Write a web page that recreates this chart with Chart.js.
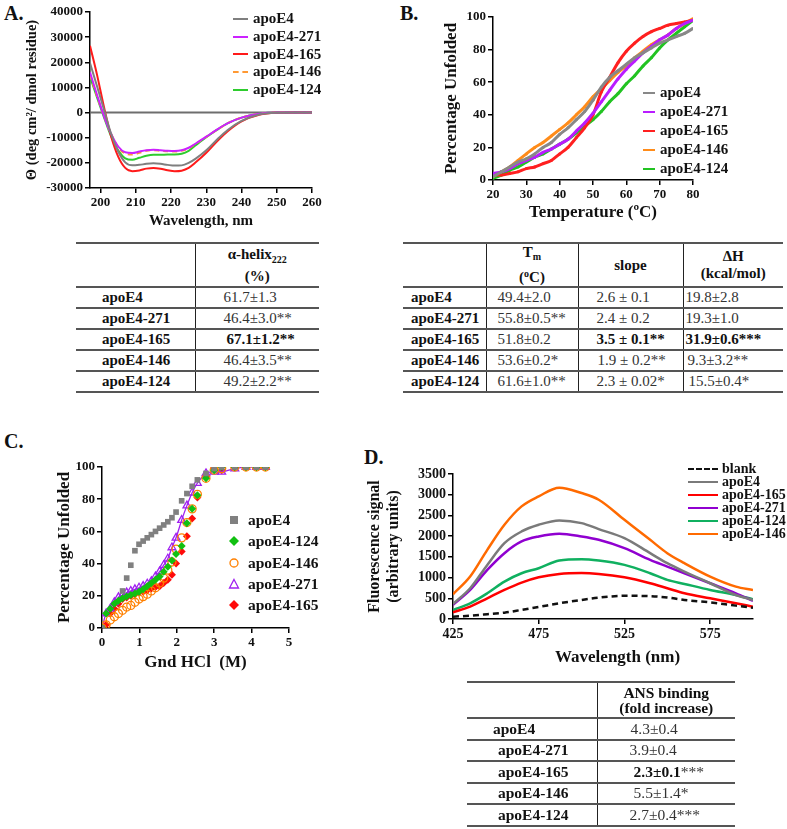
<!DOCTYPE html>
<html>
<head>
<meta charset="utf-8">
<script src="https://cdn.jsdelivr.net/npm/chart.js@4.4.1/dist/chart.umd.min.js"></script>
<style>
    body { margin: 0; width: 787px; height: 829px; overflow: hidden; background: #fff; position: relative;
        font-family: "Liberation Serif", "Times New Roman", serif; color: #111; }
    .box { position: absolute; }
    .panel { position: absolute; font-weight: bold; font-size: 20px; line-height: 20px; }
    .legend { position: absolute; font-weight: bold; }
    .legend .item { position: absolute; left: 0; white-space: nowrap; }
    .legend .swatch { position: absolute; left: 0; top: 50%; }
    table { position: absolute; border-collapse: collapse; table-layout: fixed; font-size: 15px;
        font-family: "Liberation Serif", "Times New Roman", serif; }
    td { padding: 0; border-top: 2px solid #555; vertical-align: middle; white-space: nowrap; color: #333; }
    tr:last-child td { border-bottom: 2px solid #555; }
    td + td { border-left: 1.5px solid #222; }
    td.name { font-weight: bold; color: #111; }
    th { font-weight: bold; padding: 0; border-top: 2px solid #555; line-height: 17px; }
    th + th { border-left: 1.5px solid #222; }
    b { color: #111; }
</style>
</head>
<body>

<div class="panel" style="left:4px;top:3px">A.</div>
<div class="panel" style="left:400px;top:3px">B.</div>
<div class="panel" style="left:4px;top:431px">C.</div>
<div class="panel" style="left:364px;top:447px">D.</div>

<div class="box" style="left:0;top:0"><canvas id="chartA" width="330" height="235"></canvas></div>
<div class="box" style="left:390px;top:0"><canvas id="chartB" width="330" height="225"></canvas></div>
<div class="box" style="left:0;top:440px"><canvas id="chartC" width="340" height="240"></canvas></div>
<div class="box" style="left:360px;top:440px"><canvas id="chartD" width="427" height="232"></canvas></div>

<div class="legend" id="legendA" style="left:233px;top:10px;font-size:15px"></div>
<div class="legend" id="legendB" style="left:643px;top:83px;font-size:15px"></div>
<div class="legend" id="legendC" style="left:227px;top:510px;font-size:15.5px"></div>
<div class="legend" id="legendD" style="left:688px;top:462px;font-size:14px"></div>

<table style="left:76px;top:242px;width:243px">
    <colgroup><col style="width:119px"><col style="width:124px"></colgroup>
    <tr style="height:44px"><th></th><th>α-helix<sub style="font-size:10px">222</sub><br>(%)</th></tr>
    <tr style="height:21px"><td class="name" style="padding-left:26px">apoE4</td><td style="padding-left:28px">61.7±1.3</td></tr>
    <tr style="height:21px"><td class="name" style="padding-left:26px">apoE4-271</td><td style="padding-left:28px">46.4±3.0**</td></tr>
    <tr style="height:21px"><td class="name" style="padding-left:26px">apoE4-165</td><td style="padding-left:31px"><b>67.1±1.2**</b></td></tr>
    <tr style="height:21px"><td class="name" style="padding-left:26px">apoE4-146</td><td style="padding-left:28px">46.4±3.5**</td></tr>
    <tr style="height:21px"><td class="name" style="padding-left:26px">apoE4-124</td><td style="padding-left:28px">49.2±2.2**</td></tr>
</table>

<table style="left:403px;top:242px;width:380px">
    <colgroup><col style="width:83px"><col style="width:92px"><col style="width:105px"><col style="width:100px"></colgroup>
    <tr style="height:44px"><th></th><th>T<sub style="font-size:10px;vertical-align:-3px">m</sub><br>(<sup style="font-size:10px;vertical-align:5px">o</sup>C)</th><th>slope</th><th>ΔH<br>(kcal/mol)</th></tr>
    <tr style="height:21px"><td class="name" style="padding-left:8px">apoE4</td><td style="padding-left:11px">49.4±2.0</td><td style="padding-left:18px">2.6 ± 0.1</td><td style="padding-left:2px">19.8±2.8</td></tr>
    <tr style="height:21px"><td class="name" style="padding-left:8px">apoE4-271</td><td style="padding-left:11px">55.8±0.5**</td><td style="padding-left:18px">2.4 ± 0.2</td><td style="padding-left:2px">19.3±1.0</td></tr>
    <tr style="height:21px"><td class="name" style="padding-left:8px">apoE4-165</td><td style="padding-left:11px">51.8±0.2</td><td style="padding-left:18px"><b>3.5 ± 0.1**</b></td><td style="padding-left:2px"><b>31.9±0.6***</b></td></tr>
    <tr style="height:21px"><td class="name" style="padding-left:8px">apoE4-146</td><td style="padding-left:11px">53.6±0.2*</td><td style="padding-left:19px">1.9 ± 0.2**</td><td style="padding-left:4px">9.3±3.2**</td></tr>
    <tr style="height:21px"><td class="name" style="padding-left:8px">apoE4-124</td><td style="padding-left:11px">61.6±1.0**</td><td style="padding-left:18px">2.3 ± 0.02*</td><td style="padding-left:5px">15.5±0.4*</td></tr>
</table>

<div class="box" style="left:555px;top:647px;font-weight:bold;font-size:17px">Wavelength (nm)</div>

<table style="left:467px;top:681px;width:268px;font-size:15.5px">
    <colgroup><col style="width:130px"><col style="width:138px"></colgroup>
    <tr style="height:36px"><th></th><th style="line-height:15px">ANS binding<br>(fold increase)</th></tr>
    <tr style="height:21.5px"><td class="name" style="padding-left:26px">apoE4</td><td style="padding-left:33px">4.3±0.4</td></tr>
    <tr style="height:21.5px"><td class="name" style="padding-left:31px">apoE4-271</td><td style="padding-left:32px">3.9±0.4</td></tr>
    <tr style="height:21.5px"><td class="name" style="padding-left:31px">apoE4-165</td><td style="padding-left:36px"><b>2.3±0.1</b>***</td></tr>
    <tr style="height:21.5px"><td class="name" style="padding-left:31px">apoE4-146</td><td style="padding-left:36px">5.5±1.4*</td></tr>
    <tr style="height:21.5px"><td class="name" style="padding-left:31px">apoE4-124</td><td style="padding-left:32px">2.7±0.4***</td></tr>
</table>

<script>
const SERIF = '"Liberation Serif", "Times New Roman", serif';

// ---- Panel A: CD spectra ----
const wavelengthA = [197, 199, 201, 203, 205, 207, 209, 211, 213, 215, 217, 219, 221, 223, 225, 227, 230, 233, 236, 240, 245, 250, 255, 260];
const cdApoE4 = [19700, 10500, 1000, -8500, -15500, -19800, -21000, -20800, -20400, -20200, -20400, -20800, -21100, -21000, -20000, -18300, -15000, -10800, -7000, -3300, -800, -100, 0, 0];
const cd271 = [16000, 7000, -1500, -8500, -13500, -15800, -16100, -15500, -15000, -14800, -15000, -15200, -15300, -15000, -14000, -12300, -9600, -6800, -4300, -2000, -500, 0, 0, 0];
const cd165 = [26600, 15000, 2000, -9500, -17500, -22000, -23300, -23000, -22300, -22000, -22300, -22900, -23300, -23100, -22000, -19800, -16000, -11500, -7500, -3500, -900, -100, 0, 0];
const cd146 = [15000, 6500, -1500, -8500, -13800, -16300, -16700, -16000, -15200, -15000, -15200, -15400, -15500, -15200, -14200, -12400, -9700, -6900, -4300, -2000, -500, 0, 0, 0];
const cd124 = [14300, 6000, -2000, -9500, -15000, -18200, -18800, -18000, -17200, -16800, -16800, -16700, -16700, -16400, -15200, -13000, -9800, -6900, -4300, -2000, -500, 0, 0, 0];
const ticksA = [200, 210, 220, 230, 240, 250, 260];

// ---- Panel B: thermal unfolding ----
const temperatureB = [20, 22.5, 25, 27.5, 30, 32.5, 35, 37.5, 40, 42.5, 45, 47.5, 50, 52.5, 55, 57.5, 60, 62.5, 65, 67.5, 70, 72.5, 75, 77.5, 80];
const unfoldApoE4 = [2, 5, 8, 11, 13, 16, 20, 23, 28, 32, 37, 42, 49, 57, 63, 67, 71, 75, 78, 81, 84, 86, 88, 90, 93];
const unfold271 = [4, 5, 7, 10, 12, 14, 17, 19, 22, 25, 30, 35, 41, 48, 55, 62, 68, 73, 78, 82, 86, 89, 93, 96, 98];
const unfold165 = [3, 3, 4, 5, 7, 8, 10, 12, 16, 20, 26, 32, 40, 54, 63, 72, 79, 84, 88, 91, 93, 95, 96, 97, 98];
const unfold146 = [2, 5, 8, 12, 16, 20, 23, 27, 31, 35, 40, 45, 51, 56, 61, 66, 70, 75, 79, 83, 86, 89, 93, 96, 99];
const unfold124 = [1, 3, 6, 8, 11, 14, 16, 19, 22, 25, 29, 33, 37, 42, 48, 53, 59, 64, 70, 75, 81, 86, 90, 94, 98];

// ---- Panel C: GdnHCl denaturation ----
const gdnC = [0, 0.11, 0.22, 0.33, 0.44, 0.55, 0.66, 0.77, 0.88, 0.99, 1.1, 1.21, 1.32, 1.43, 1.54, 1.65, 1.76, 1.87, 1.98, 2.13, 2.27, 2.41, 2.55, 2.78, 3.0, 3.2, 3.55, 3.85, 4.13, 4.37];
const gdnApoE4 = [0, null, null, null, null, 23, 31, 39, 48, 52, 54, 56, 58, 60, 62, 64, 66, 68.5, 72, 79, 83.5, 88, 92, 96, 99, 100, 100, 100, 100, 100];
const gdn124 = [0, 9, 12, 15, 17, 18.5, 19.5, 20.5, 21.5, 22.5, 24, 26, 28, 30, 32, 35, 38, 42, 46, 51, 65, 74, 82.5, 93, 98, 100, 100, 100, 100, 100];
const gdn146 = [0, 2, 5, 7, 9, 11, 13, 14, 16, 18, 19.5, 21, 23, 25, 28, 31, 36, 41, 49, 56, 65.5, 74, 83, 93, 98, 99, 100, 100, 100, 100];
const gdn271 = [0, 9, 12, 16, 19, 20.5, 22, 23, 24, 25, 26, 27.5, 29, 32, 35, 39, 43, 50, 56, 67, 76, 84, 90, 96, 97, 97, 99, 100, 100, 100];
const gdn165 = [0, 2, 9, 12, 15, 18, 19, 20, 21, 22, 22.5, 23.5, 24.5, 25.5, 26, 28, 30, 33, 40, 47.5, 57, 68, 81, 94, 99.5, 98, 100, 100, 100, 100];

// ---- Panel D: ANS fluorescence ----
const wavelengthD = [425, 435, 445, 455, 465, 475, 487, 500, 510, 525, 540, 550, 560, 575, 590, 600];
const fluorBlank = [56, 80, 115, 153, 220, 290, 379, 460, 515, 560, 550, 520, 460, 403, 323, 274];
const fluorApoE4 = [363, 742, 1306, 1831, 2113, 2274, 2380, 2315, 2170, 1952, 1589, 1347, 1145, 863, 580, 460];
const fluor165 = [161, 298, 500, 702, 879, 1008, 1089, 1110, 1089, 1008, 863, 742, 621, 500, 379, 298];
const fluor271 = [340, 700, 1185, 1589, 1871, 1992, 2057, 1992, 1911, 1710, 1427, 1266, 1105, 863, 620, 440];
const fluor124 = [218, 379, 621, 903, 1105, 1226, 1411, 1444, 1411, 1306, 1105, 944, 847, 702, 581, 476];
const fluor146 = [597, 1024, 1669, 2274, 2718, 2960, 3170, 3040, 2879, 2395, 1911, 1589, 1347, 1024, 782, 700];
const ticksD = [425, 475, 525, 575];

const seriesA = [
    { label: 'apoE4', data: cdApoE4, color: '#7f7f7f' },
    { label: 'apoE4-271', data: cd271, color: '#cc22ff' },
    { label: 'apoE4-165', data: cd165, color: '#ff1a1a' },
    { label: 'apoE4-146', data: cd146, color: '#ff9933', dash: [5, 4] },
    { label: 'apoE4-124', data: cd124, color: '#2ecc2e' },
];
const seriesB = [
    { label: 'apoE4', data: unfoldApoE4, color: '#888888' },
    { label: 'apoE4-271', data: unfold271, color: '#b91cff' },
    { label: 'apoE4-165', data: unfold165, color: '#ff2020' },
    { label: 'apoE4-146', data: unfold146, color: '#ff8c1a' },
    { label: 'apoE4-124', data: unfold124, color: '#22c322' },
];
const seriesC = [
    { label: 'apoE4', data: gdnApoE4, color: '#808080', style: 'rect', fill: true, r: 4 },
    { label: 'apoE4-124', data: gdn124, color: '#11c011', style: 'rectRot', fill: true, r: 4 },
    { label: 'apoE4-146', data: gdn146, color: '#ff8000', style: 'circle', fill: false, r: 4 },
    { label: 'apoE4-271', data: gdn271, color: '#a020f0', style: 'triangle', fill: false, r: 4.5, line: true },
    { label: 'apoE4-165', data: gdn165, color: '#ff0a0a', style: 'rectRot', fill: true, r: 4 },
];
const seriesD = [
    { label: 'blank', data: fluorBlank, color: '#111111', dash: [6, 4] },
    { label: 'apoE4', data: fluorApoE4, color: '#7a7a7a' },
    { label: 'apoE4-165', data: fluor165, color: '#ff0000' },
    { label: 'apoE4-271', data: fluor271, color: '#9000d0' },
    { label: 'apoE4-124', data: fluor124, color: '#10b060' },
    { label: 'apoE4-146', data: fluor146, color: '#ff6a00' },
];

function points(xs, ys) {
    return xs.map((x, i) => ({ x, y: ys[i] }));
}

function axis({ min, max, step, tickList, fixed, title, titleSize, titlePad, tickSize }) {
    return {
        type: 'linear',
        min,
        max,
        border: { color: '#000', width: 1.5 },
        grid: { drawOnChartArea: false, drawTicks: true, tickLength: 5, color: '#000', lineWidth: 1.5 },
        ticks: {
            stepSize: step,
            color: '#111',
            padding: 2,
            maxRotation: 0,
            font: { family: SERIF, weight: 'bold', size: tickSize || 13 },
            callback: (value) => String(value),
        },
        title: {
            display: title !== '',
            text: title,
            color: '#111',
            padding: titlePad,
            font: { family: SERIF, weight: 'bold', size: titleSize, lineHeight: 1.15 },
        },
        afterBuildTicks: tickList ? (scale) => { scale.ticks = tickList.map((v) => ({ value: v })); } : undefined,
        afterFit: (scale) => {
            if (scale.isHorizontal()) {
                scale.height = fixed;
            } else {
                scale.width = fixed;
            }
        },
    };
}

const zeroLine = {
    id: 'zeroLine',
    beforeDatasetsDraw(chart) {
        const { ctx, chartArea, scales } = chart;
        const y = scales.y.getPixelForValue(0);
        ctx.save();
        ctx.strokeStyle = '#6e6e6e';
        ctx.lineWidth = 2;
        ctx.beginPath();
        ctx.moveTo(chartArea.left, y);
        ctx.lineTo(chartArea.right, y);
        ctx.stroke();
        ctx.restore();
    },
};

function baseOptions(padding, x, y) {
    return {
        responsive: false,
        animation: false,
        events: [],
        layout: { padding },
        plugins: { legend: { display: false }, tooltip: { enabled: false } },
        scales: { x, y },
    };
}

new Chart(document.getElementById('chartA'), {
    type: 'line',
    data: {
        datasets: seriesA.map((s) => ({
            label: s.label,
            data: points(wavelengthA, s.data),
            borderColor: s.color,
            borderWidth: 2,
            borderDash: s.dash || [],
            pointRadius: 0,
            cubicInterpolationMode: 'monotone',
        })),
    },
    options: baseOptions(
        { top: 12, right: 18, left: 0, bottom: 0 },
        axis({ min: 197, max: 260, tickList: ticksA, fixed: 47, title: 'Wavelength, nm', titleSize: 15, titlePad: { top: 0, bottom: 5 } }),
        axis({ min: -30000, max: 40000, step: 10000, fixed: 90, title: 'Θ (deg cm²/ dmol residue)', titleSize: 14.5, titlePad: { top: 24, bottom: 0 } }),
    ),
    plugins: [zeroLine],
});

new Chart(document.getElementById('chartB'), {
    type: 'line',
    data: {
        datasets: seriesB.map((s) => ({
            label: s.label,
            data: points(temperatureB, s.data),
            borderColor: s.color,
            backgroundColor: s.color,
            borderWidth: 3,
            pointRadius: 1.5,
            pointBorderWidth: 0,
            cubicInterpolationMode: 'monotone',
        })),
    },
    options: baseOptions(
        { top: 17, right: 27, left: 0, bottom: 0 },
        axis({ min: 20, max: 80, step: 10, fixed: 45, title: 'Temperature (ºC)', titleSize: 17, titlePad: { top: 0, bottom: 3 } }),
        axis({ min: 0, max: 100, step: 20, fixed: 103, title: 'Percentage Unfolded', titleSize: 17, titlePad: { top: 52, bottom: 0 } }),
    ),
});

new Chart(document.getElementById('chartC'), {
    type: 'scatter',
    data: {
        datasets: seriesC.map((s) => ({
            label: s.label,
            data: points(gdnC, s.data),
            pointStyle: s.style,
            pointRadius: s.r,
            borderColor: s.color,
            backgroundColor: s.fill ? s.color : 'rgba(255,255,255,0)',
            borderWidth: s.fill ? 0 : 1.3,
            showLine: !!s.line,
            spanGaps: true,
            tension: 0.3,
        })),
    },
    options: baseOptions(
        { top: 27, right: 51, left: 0, bottom: 0 },
        axis({ min: 0, max: 5, step: 1, fixed: 52, title: 'Gnd HCl  (M)', titleSize: 17, titlePad: { top: 0, bottom: 8 } }),
        axis({ min: 0, max: 100, step: 20, fixed: 102, title: 'Percentage Unfolded', titleSize: 17, titlePad: { top: 55, bottom: 0 } }),
    ),
});

new Chart(document.getElementById('chartD'), {
    type: 'line',
    data: {
        datasets: seriesD.map((s) => ({
            label: s.label,
            data: points(wavelengthD, s.data),
            borderColor: s.color,
            borderWidth: 2.5,
            borderDash: s.dash || [],
            pointRadius: 0,
            cubicInterpolationMode: 'monotone',
        })),
    },
    options: baseOptions(
        { top: 34, right: 34, left: 0, bottom: 0 },
        axis({ min: 425, max: 600, tickList: ticksD, fixed: 53, title: '', titleSize: 16, titlePad: 0, tickSize: 14 }),
        axis({ min: 0, max: 3500, step: 500, fixed: 93, title: ['Fluorescence signal', '(arbitrary units)'], titleSize: 16, titlePad: { top: 6, bottom: 0 }, tickSize: 14 }),
    ),
});

// HTML legends
function lineLegend(id, series, spacing, swatchWidth, gap) {
    const root = document.getElementById(id);
    series.forEach((s, i) => {
        const item = document.createElement('div');
        item.className = 'item';
        item.style.top = `${i * spacing}px`;
        item.style.height = `${spacing}px`;
        item.style.lineHeight = `${spacing}px`;
        item.style.paddingLeft = `${swatchWidth + gap}px`;
        item.textContent = s.label;
        const sw = document.createElement('span');
        sw.className = 'swatch';
        sw.style.width = `${swatchWidth}px`;
        sw.style.borderTop = `2.5px ${s.dash ? 'dashed' : 'solid'} ${s.color}`;
        sw.style.marginTop = '-1px';
        item.appendChild(sw);
        root.appendChild(item);
    });
}

lineLegend('legendA', seriesA, 17.8, 15, 5);
lineLegend('legendB', seriesB, 19, 12, 5);
lineLegend('legendD', seriesD, 13, 30, 4);

const markerSvg = {
    rect: (c) => `<rect x="3" y="3" width="8" height="8" fill="${c}"/>`,
    rectRot: (c) => `<polygon points="7,2 12,7 7,12 2,7" fill="${c}"/>`,
    circle: (c) => `<circle cx="7" cy="7" r="4" fill="none" stroke="${c}" stroke-width="1.3"/>`,
    triangle: (c) => `<polygon points="7,2.5 11.5,11 2.5,11" fill="none" stroke="${c}" stroke-width="1.3"/>`,
};
const legendC = document.getElementById('legendC');
seriesC.forEach((s, i) => {
    const item = document.createElement('div');
    item.className = 'item';
    item.style.top = `${i * 21.3}px`;
    item.style.height = '20px';
    item.style.lineHeight = '20px';
    item.style.paddingLeft = '21px';
    item.innerHTML = `<svg width="14" height="14" style="position:absolute;left:0;top:3px">${markerSvg[s.style](s.color)}</svg>`;
    item.appendChild(document.createTextNode(s.label));
    legendC.appendChild(item);
});
</script>
</body>
</html>
